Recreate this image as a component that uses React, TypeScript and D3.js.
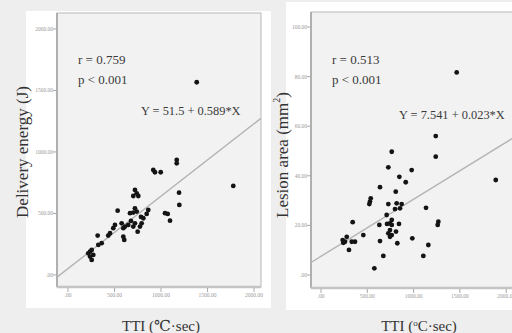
import React from 'react';
import * as d3 from 'd3';

// ---- data ----
const leftTTI = [
  1384, 1169, 1169, 917, 935, 997, 1777, 1194, 1197, 720,
  739, 702, 756, 534, 720, 739, 702, 667, 863, 846,
  1043, 1072, 1097, 810, 792, 774, 720, 702, 648, 613,
  749, 577, 595, 505, 487, 452, 433, 595, 605, 319,
  362, 326, 255, 237, 218, 272, 237, 255, 785, 677,
];
const leftEnergy = [
  1567, 935, 908, 854, 835, 835, 724, 669, 569, 691,
  664, 642, 642, 523, 542, 515, 507, 502, 528, 496,
  502, 496, 441, 461, 420, 393, 420, 393, 407, 393,
  352, 420, 380, 407, 380, 339, 320, 311, 285, 320,
  258, 244, 203, 189, 176, 163, 149, 122, 472, 439,
];
const rightTTI = [
  1465, 1239, 1239, 764, 727, 979, 846, 915, 1887, 637,
  807, 537, 529, 522, 727, 817, 871, 853, 799, 1134,
  709, 764, 745, 713, 764, 842, 630, 1267, 1260, 342,
  745, 727, 764, 745, 810, 824, 986, 637, 457, 367,
  332, 278, 259, 241, 234, 302, 1159, 673, 1105, 576,
];
const rightArea = [
  81.7, 56.0, 47.7, 49.7, 43.4, 42.3, 39.6, 37.4, 38.3, 35.4,
  33.6, 30.9, 29.6, 28.6, 28.6, 28.9, 28.6, 26.9, 26.6, 27.1,
  24.2, 22.2, 20.8, 20.6, 20.2, 20.6, 20.2, 21.5, 20.2, 21.3,
  18.1, 16.8, 16.1, 15.4, 17.5, 12.8, 14.8, 13.7, 16.1, 13.4,
  13.4, 15.4, 13.4, 13.0, 14.1, 10.1, 12.1, 7.7, 7.7, 2.7,
];
const xTicks = [0, 500, 1000, 1500, 2000];
const leftYTicks = [0, 500, 1000, 1500, 2000];
const rightYTicks = [0, 20, 40, 60, 80, 100];
const leftFit = { a: 51.5, b: 0.589 };
const rightFit = { a: 7.541, b: 0.023 };

const fmt = (v: number) => (v === 0 ? '.00' : v.toFixed(2));
const SERIF = '"Liberation Serif", "DejaVu Serif", serif';

type PanelProps = {
  id: string;
  box: [number, number, number, number];
  frame: [number, number, number, number];
  xDomain: [number, number];
  yDomain: [number, number];
  xs: number[];
  ys: number[];
  yTicks: number[];
  fit: { a: number; b: number };
  rText: string;
  eqText: string;
  eqPos: [number, number];
  yLabel: React.ReactNode;
  yLabelPos: [number, number];
  xLabel: React.ReactNode;
  xLabelPos: [number, number];
};

function Panel(p: PanelProps) {
  const [fx0, fy0, fx1, fy1] = p.frame;
  const x = d3.scaleLinear().domain(p.xDomain).range([fx0, fx1]);
  const y = d3.scaleLinear().domain(p.yDomain).range([fy1, fy0]);
  const lineGen = d3
    .line<number>()
    .x((d) => x(d))
    .y((d) => y(p.fit.a + p.fit.b * d));
  const [bx0, by0, bx1, by1] = p.box;
  return (
    <g>
      <rect x={bx0} y={by0} width={bx1 - bx0} height={by1 - by0} fill="#ffffff" />
      <clipPath id={`clip-${p.id}`}>
        <rect x={fx0} y={fy0} width={fx1 - fx0} height={fy1 - fy0} />
      </clipPath>
      <rect x={fx0} y={fy0} width={fx1 - fx0} height={fy1 - fy0} fill="#f2f2f2" stroke="#b8b8b8" strokeWidth={1} />
      {/* axes */}
      <line x1={fx0} x2={fx0} y1={fy0} y2={fy1} stroke="#b0b0b0" strokeWidth={2} />
      <line x1={fx0} x2={fx1} y1={fy1} y2={fy1} stroke="#c4c4c4" strokeWidth={2.5} />
      {xTicks.map((t) => (
        <g key={`xt${t}`}>
          <line x1={x(t)} x2={x(t)} y1={fy1 + 1} y2={fy1 + 5} stroke="#aaaaaa" strokeWidth={1} />
          <text x={x(t)} y={fy1 + 9.5} fontSize={5.5} fill="#9a9a9a" textAnchor="middle" fontFamily={SERIF}>
            {fmt(t)}
          </text>
        </g>
      ))}
      {p.yTicks.map((t) => (
        <g key={`yt${t}`}>
          <line x1={fx0 - 4} x2={fx0} y1={y(t)} y2={y(t)} stroke="#aaaaaa" strokeWidth={1} />
          <text x={fx0 - 4} y={y(t) + 2} fontSize={5.5} fill="#9a9a9a" textAnchor="end" fontFamily={SERIF}>
            {fmt(t)}
          </text>
        </g>
      ))}
      <g clipPath={`url(#clip-${p.id})`}>
        <path d={lineGen(p.xDomain) || ''} stroke="#b4b4b4" strokeWidth={1.4} fill="none" />
        {p.xs.map((v, i) => (
          <circle key={i} cx={x(v)} cy={y(p.ys[i])} r={2.4} fill="#141414" />
        ))}
      </g>
      <g fontFamily={SERIF} fill="#3a3a3a" fontSize={13}>
        <text x={fx0 + 21} y={64}>{p.rText}</text>
        <text x={fx0 + 21} y={84}>p &lt; 0.001</text>
        <text x={p.eqPos[0]} y={p.eqPos[1]} fontSize={12.4}>{p.eqText}</text>
      </g>
      <text
        transform={`translate(${p.yLabelPos[0]},${p.yLabelPos[1]}) rotate(-90)`}
        textAnchor="middle"
        dominantBaseline="central"
        fontFamily={SERIF}
        fontSize={17}
        fill="#333333"
      >
        {p.yLabel}
      </text>
      <text x={p.xLabelPos[0]} y={p.xLabelPos[1]} textAnchor="middle" fontFamily={SERIF} fontSize={15} fill="#333333">
        {p.xLabel}
      </text>
    </g>
  );
}

export default function App() {
  return (
    <svg
      width={512}
      height={333}
      viewBox="0 0 512 333"
      style={{ position: 'absolute', left: 0, top: 0, display: 'block' }}
    >
      <rect x={0} y={0} width={512} height={333} fill="#eeeeee" />
      <Panel
        id="l"
        box={[26, 11, 271, 308]}
        frame={[57, 13, 261, 287]}
        xDomain={[-118, 2075]}
        yDomain={[-98, 2130]}
        xs={leftTTI}
        ys={leftEnergy}
        yTicks={leftYTicks}
        fit={leftFit}
        rText="r = 0.759"
        eqText="Y = 51.5 + 0.589*X"
        eqPos={[141, 115]}
        yLabel="Delivery energy (J)"
        yLabelPos={[22, 152]}
        xLabel="TTI (℃·sec)"
        xLabelPos={[161, 331]}
      />
      <Panel
        id="r"
        box={[286, 2, 512, 310]}
        frame={[311, 12, 514, 288]}
        xDomain={[-108, 2084]}
        yDomain={[-5.24, 106.05]}
        xs={rightTTI}
        ys={rightArea}
        yTicks={rightYTicks}
        fit={rightFit}
        rText="r = 0.513"
        eqText="Y = 7.541 + 0.023*X"
        eqPos={[399, 119]}
        yLabel={
          <>
            Lesion area (mm<tspan baselineShift="super" fontSize={10}>2</tspan>)
          </>
        }
        yLabelPos={[282, 155]}
        xLabel={
          <>
            TTI (<tspan baselineShift="super" fontSize={9}>o</tspan>C·sec)
          </>
        }
        xLabelPos={[419, 331]}
      />
    </svg>
  );
}
